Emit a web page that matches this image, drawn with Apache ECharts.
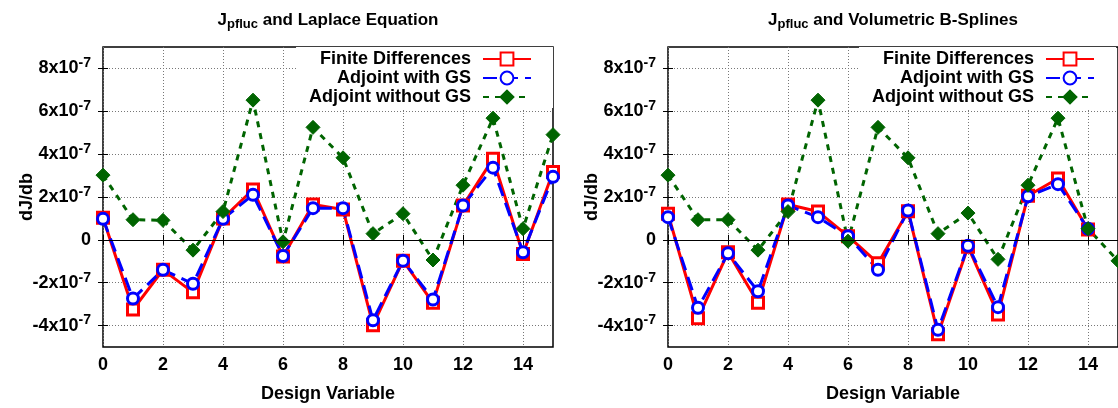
<!DOCTYPE html>
<html>
<head>
<meta charset="utf-8">
<script src="https://cdn.jsdelivr.net/npm/echarts@6/dist/echarts.min.js"></script>
<style>
  html, body { margin: 0; padding: 0; background: #fff; }
  #main { width: 1118px; height: 408px; }
</style>
</head>
<body>
<div id="main"></div>
<script>
// values in units of 1e-7
var designVars = [0, 1, 2, 3, 4, 5, 6, 7, 8, 9, 10, 11, 12, 13, 14, 15]
var xTicks = [0, 2, 4, 6, 8, 10, 12, 14]
var yTicks = [-4, -2, 0, 2, 4, 6, 8]
var seriesNames = ['Finite Differences', 'Adjoint with GS', 'Adjoint without GS']

var fdLaplace = [1.03, -3.25, -1.4, -2.45, 1.0, 2.35, -0.78, 1.65, 1.42, -3.98, -0.97, -2.94, 1.6, 3.78, -0.66, 3.17]
var gsLaplace = [0.98, -2.74, -1.4, -2.05, 0.98, 2.1, -0.75, 1.48, 1.48, -3.75, -0.97, -2.78, 1.6, 3.37, -0.58, 2.94]
var noGsLaplace = [3.02, 0.94, 0.91, -0.48, 1.32, 6.52, -0.09, 5.25, 3.83, 0.29, 1.22, -0.94, 2.55, 5.68, 0.52, 4.91]

var fdSplines = [1.22, -3.66, -0.58, -2.94, 1.65, 1.32, 0.17, -1.09, 1.34, -4.4, -0.32, -3.48, 2.06, 2.86, 0.48]
var gsSplines = [1.06, -3.17, -0.63, -2.4, 1.6, 1.06, 0.17, -1.4, 1.37, -4.2, -0.28, -3.14, 2.03, 2.6, 0.52]
var noGsSplines = [3.02, 0.94, 0.94, -0.48, 1.32, 6.52, -0.06, 5.25, 3.83, 0.29, 1.25, -0.91, 2.55, 5.68, 0.52, -0.98]

var FONT = 'Liberation Sans'

function pairs(vals) {
  return vals.map((v, i) => [designVars[i], v])
}

function yLabel(v) {
  if (v === 0) return '{b|0}'
  return '{b|' + v + 'x10}{s|-7}'
}

function bottomX(gi) {
  return {
    type: 'value', gridIndex: gi, position: 'bottom', min: 0, max: 15,
    axisLine: { show: false },
    axisTick: { inside: true, length: 5, customValues: xTicks, lineStyle: { color: '#000' } },
    axisLabel: { customValues: xTicks, margin: 9, color: '#000', fontFamily: FONT, fontWeight: 'bold', fontSize: 18 },
    splitLine: { show: true, lineStyle: { type: [1, 2], color: '#777', width: 1 } },
    name: 'Design Variable', nameLocation: 'middle', nameGap: 38, nameMoveOverlap: false,
    nameTextStyle: { color: '#000', fontFamily: FONT, fontWeight: 'bold', fontSize: 18 }
  }
}

function topX(gi, title) {
  return {
    type: 'value', gridIndex: gi, position: 'top', min: 0, max: 15,
    axisLine: { show: false },
    axisTick: { inside: true, length: 5, customValues: xTicks, lineStyle: { color: '#000' } },
    axisLabel: { show: false },
    splitLine: { show: false },
    name: '{m|J}{sub|pfluc}{m| ' + title + '}', nameLocation: 'middle', nameGap: 16,
    nameTextStyle: {
      rich: {
        m: { fontFamily: FONT, fontWeight: 'bold', fontSize: 17, color: '#000', lineHeight: 22, verticalAlign: 'middle' },
        sub: { fontFamily: FONT, fontWeight: 'bold', fontSize: 13, color: '#000', lineHeight: 14, verticalAlign: 'bottom' }
      }
    }
  }
}

function leftY(gi) {
  return {
    type: 'value', gridIndex: gi, position: 'left', min: -5, max: 9,
    axisLine: { show: false },
    axisTick: { inside: true, length: 5, customValues: yTicks, lineStyle: { color: '#000' } },
    axisLabel: {
      customValues: yTicks, margin: 12, formatter: yLabel,
      rich: {
        b: { fontFamily: FONT, fontWeight: 'bold', fontSize: 18, color: '#000', lineHeight: 24, verticalAlign: 'middle' },
        s: { fontFamily: FONT, fontWeight: 'bold', fontSize: 14, color: '#000', lineHeight: 14, verticalAlign: 'top' }
      }
    },
    splitLine: { show: true, lineStyle: { type: [1, 2], color: '#777', width: 1 } },
    name: 'dJ/db', nameLocation: 'middle', nameGap: 67, nameRotate: 90, nameMoveOverlap: false,
    nameTextStyle: { color: '#000', fontFamily: FONT, fontWeight: 'bold', fontSize: 18 }
  }
}

function rightY(gi) {
  return {
    type: 'value', gridIndex: gi, position: 'right', min: -5, max: 9,
    axisLine: { show: false },
    axisTick: { inside: true, length: 5, customValues: yTicks, lineStyle: { color: '#000' } },
    axisLabel: { show: false },
    splitLine: { show: false }
  }
}

function makeSeries(ax, fd, gs, nogs) {
  return [{
    name: seriesNames[0], type: 'line', xAxisIndex: ax, yAxisIndex: ax,
    data: pairs(fd), symbol: 'rect', symbolSize: 11,
    lineStyle: { color: '#ff0000', width: 3 },
    itemStyle: { color: '#fff', borderColor: '#ff0000', borderWidth: 3 },
    markLine: {
      silent: true, symbol: 'none', label: { show: false },
      lineStyle: { color: '#000', type: 'solid', width: 1 },
      data: [{ yAxis: 0 }]
    }
  }, {
    name: seriesNames[1], type: 'line', xAxisIndex: ax, yAxisIndex: ax,
    data: pairs(gs), symbol: 'circle', symbolSize: 11,
    lineStyle: { color: '#0000ff', width: 3, type: [14, 7] },
    itemStyle: { color: '#fff', borderColor: '#0000ff', borderWidth: 3 }
  }, {
    name: seriesNames[2], type: 'line', xAxisIndex: ax, yAxisIndex: ax,
    data: pairs(nogs), symbol: 'diamond', symbolSize: 14,
    lineStyle: { color: '#006400', width: 3, type: [6, 6] },
    itemStyle: { color: '#006400', borderColor: '#006400', borderWidth: 1 }
  }]
}

function makeLegend(right) {
  return {
    data: seriesNames, orient: 'vertical', align: 'right',
    right: right, top: 47, itemWidth: 48, itemHeight: 16, itemGap: 1,
    padding: [3, 21, 2, 13], backgroundColor: '#fff',
    textStyle: { fontFamily: FONT, fontWeight: 'bold', fontSize: 18, color: '#000', lineHeight: 17.5, padding: [0, 7, 0, 0] }
  }
}

var myChart = echarts.init(document.getElementById('main'))
var option = {
  animation: false,
  grid: [
    { left: 103, top: 47, width: 450, height: 303, show: true, borderColor: '#000', borderWidth: 1.5 },
    { left: 668, top: 47, width: 451, height: 303, show: true, borderColor: '#000', borderWidth: 1.5 }
  ],
  xAxis: [bottomX(0), topX(0, 'and Laplace Equation'), bottomX(1), topX(1, 'and Volumetric B-Splines')],
  yAxis: [leftY(0), rightY(0), leftY(1), rightY(1)],
  legend: [makeLegend(565), makeLegend(2)],
  series: makeSeries(0, fdLaplace, gsLaplace, noGsLaplace).concat(makeSeries(2, fdSplines, gsSplines, noGsSplines))
}
myChart.setOption(option)
</script>
</body>
</html>
